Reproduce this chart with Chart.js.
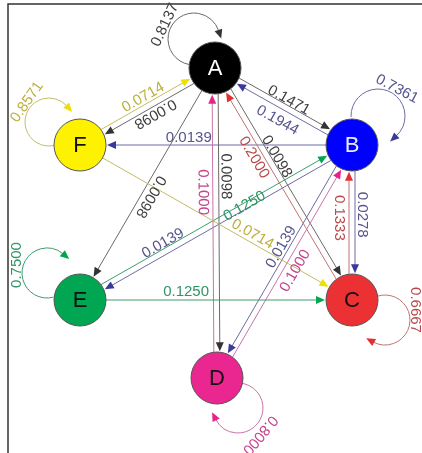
<!DOCTYPE html>
<html><head><meta charset="utf-8">
<script src="https://cdn.jsdelivr.net/npm/chart.js@4"></script>
<style>html,body{margin:0;padding:0;background:#fff}#wrap{width:422px;height:453px;position:relative}</style>
</head><body><div id="wrap"><canvas id="c"></canvas></div>
<script>
// ---- data ----
const states = ['A','B','C','D','E','F'];
const nodeX = [215, 352, 352, 217, 80, 80];
const nodeY = [68, 145, 300, 378, 300, 145];
const fromState = ['A','A','A','A','A','A','B','B','B','B','B','B','C','C','C','D','D','D','E','E','E','F','F','F'];
const toState   = ['A','B','C','D','E','F','A','B','C','D','E','F','A','B','C','A','B','D','B','C','E','A','C','F'];
const probs     = [0.8137,0.1471,0.0098,0.0098,0.0098,0.0098,0.1944,0.7361,0.0278,0.0139,0.0139,0.0139,0.2000,0.1333,0.6667,0.1000,0.1000,0.8000,0.1250,0.1250,0.7500,0.0714,0.0714,0.8571];

// ---- styles ----
const nodeFill  = {A:'#000000',B:'#0000ff',C:'#ec3134',D:'#ea2790',E:'#00a651',F:'#fff200'};
const nodeText  = {A:'#ffffff',B:'#e8e8ff',C:'#111111',D:'#111111',E:'#111111',F:'#111111'};
const arrowCol  = {A:'#333333',B:'#3a3a9c',C:'#e0302f',D:'#e52489',E:'#00a651',F:'#eee000'};
const lineCol   = {A:'#6a6a6a',B:'#6c6ca4',C:'#bd7474',D:'#c873a8',E:'#3d9c6c',F:'#c4bc62'};
const labelCol  = {A:'#404040',B:'#55558f',C:'#b84a4a',D:'#c4448e',E:'#2f9565',F:'#bcb03c'};
const R = 26;
// edge label placement: t along edge, p perpendicular, flip text, off line offset
const edgeStyle = {
 'A>B':{off:3,t:0.51,p:8,flip:false},
 'B>A':{off:3,t:0.49,p:15,flip:true},
 'A>F':{off:3,t:0.48,p:10,flip:false},
 'F>A':{off:3,t:0.505,p:10,flip:false},
 'B>F':{off:0,t:0.60,p:-7,flip:true},
 'A>E':{off:0,t:0.535,p:9,flip:false},
 'A>D':{off:3,t:0.35,p:10,flip:false},
 'D>A':{off:3,t:0.60,p:13,flip:true},
 'A>C':{off:3,t:0.40,p:8,flip:false},
 'C>A':{off:3,t:0.64,p:12,flip:true},
 'F>C':{off:0,t:0.62,p:8,flip:false},
 'E>B':{off:3,t:0.605,p:0,flip:false},
 'B>E':{off:3,t:0.68,p:-8,flip:true},
 'B>C':{off:3,t:0.45,p:10,flip:false},
 'C>B':{off:3,t:0.53,p:13,flip:true},
 'B>D':{off:-3,t:0.46,p:-10,flip:true},
 'D>B':{off:-3,t:0.49,p:-14,flip:false},
 'E>C':{off:0,t:0.39,p:8,flip:false}
};
// self loops: loop centre relative to node, radius, start/end angle (deg), label rel pos & rotation
const loopStyle = {
 A:{cx:-21,cy:-29,r:26,s:100,e:342,lx:-50,ly:-43,rot:-65},
 F:{cx:-31,cy:-23,r:24,s:75,e:318,lx:-53,ly:-43,rot:-55},
 B:{cx:26,cy:-29,r:27,s:178,e:408,lx:45,ly:-56,rot:28},
 C:{cx:33,cy:20,r:25,s:250,e:478,lx:63,ly:10,rot:90},
 D:{cx:21,cy:30,r:25,s:275,e:513,lx:43,ly:57,rot:130},
 E:{cx:-33,cy:-27,r:25,s:75,e:310,lx:-63,ly:-35,rot:-90}
};
const FONT = '15px "Liberation Sans", Arial, sans-serif';

function arrow(ctx, tx, ty, dx, dy, col){
  const len=9, hw=4;
  const bx=tx-dx*len, by=ty-dy*len;
  ctx.beginPath();
  ctx.moveTo(tx,ty);
  ctx.lineTo(bx+dy*hw, by-dx*hw);
  ctx.lineTo(bx-dy*hw, by+dx*hw);
  ctx.closePath();
  ctx.fillStyle=col; ctx.fill();
}
function label(ctx, txt, x, y, rot, col){
  ctx.save();
  ctx.translate(x,y); ctx.rotate(rot);
  ctx.font=FONT; ctx.fillStyle=col; ctx.textAlign='center'; ctx.textBaseline='middle';
  ctx.fillText(txt,0,0);
  ctx.restore();
}

const graphPlugin = {
  id:'graph',
  beforeDatasetsDraw(chart){
    const ctx=chart.ctx, xs=chart.scales.x, ys=chart.scales.y;
    const P = s => { const i=states.indexOf(s); return [xs.getPixelForValue(nodeX[i]), ys.getPixelForValue(nodeY[i])]; };
    ctx.save();
    // frame
    ctx.strokeStyle='#333'; ctx.lineWidth=1.5;
    ctx.beginPath(); ctx.moveTo(xs.getPixelForValue(8), ys.getPixelForValue(453));
    ctx.lineTo(xs.getPixelForValue(8), ys.getPixelForValue(4)); ctx.lineTo(xs.getPixelForValue(422), ys.getPixelForValue(4)); ctx.stroke();
    chart.$labels=[];
    for(let k=0;k<probs.length;k++){
      const f=fromState[k], t=toState[k], txt=probs[k].toFixed(4);
      const [ux,uy]=P(f), [vx,vy]=P(t);
      ctx.lineWidth=1;
      if(f===t){
        const L=loopStyle[f];
        const cx=ux+L.cx, cy=uy+L.cy, s=L.s*Math.PI/180, e=L.e*Math.PI/180;
        ctx.strokeStyle=lineCol[f];
        ctx.beginPath(); ctx.arc(cx,cy,L.r,s,e,false); ctx.stroke();
        const ex=cx+L.r*Math.cos(e), ey=cy+L.r*Math.sin(e);
        const tx=-Math.sin(e), ty=Math.cos(e);
        arrow(ctx, ex+tx*8, ey+ty*8, tx, ty, arrowCol[f]);
        chart.$labels.push([txt, ux+L.lx, uy+L.ly, L.rot*Math.PI/180, labelCol[f]]);
      } else {
        const st=edgeStyle[f+'>'+t];
        const dx=vx-ux, dy=vy-uy, len=Math.hypot(dx,dy);
        const d=[dx/len,dy/len], n=[d[1],-d[0]];
        const a=Math.sqrt(R*R-st.off*st.off);
        const sx=ux+n[0]*st.off+d[0]*a, sy=uy+n[1]*st.off+d[1]*a;
        const ex=vx+n[0]*st.off-d[0]*(a+1), ey=vy+n[1]*st.off-d[1]*(a+1);
        ctx.strokeStyle=lineCol[f];
        ctx.beginPath(); ctx.moveTo(sx,sy); ctx.lineTo(ex-d[0]*6, ey-d[1]*6); ctx.stroke();
        arrow(ctx, ex, ey, d[0], d[1], arrowCol[f]);
        const lx=ux+d[0]*st.t*len+n[0]*st.p, ly=uy+d[1]*st.t*len+n[1]*st.p;
        let rot=Math.atan2(d[1],d[0]) + (st.flip?Math.PI:0);
        chart.$labels.push([txt, lx, ly, rot, labelCol[f]]);
      }
    }
    ctx.restore();
  },
  afterDatasetsDraw(chart){
    const ctx=chart.ctx, xs=chart.scales.x, ys=chart.scales.y;
    ctx.save();
    for(const l of chart.$labels) label(ctx, ...l);
    ctx.font='22px "Liberation Sans", Arial, sans-serif';
    ctx.textAlign='center'; ctx.textBaseline='middle';
    states.forEach((s,i)=>{
      ctx.fillStyle=nodeText[s];
      ctx.fillText(s, xs.getPixelForValue(nodeX[i]), ys.getPixelForValue(nodeY[i])+1);
    });
    ctx.restore();
  }
};

new Chart(document.getElementById('c'), {
  type:'scatter',
  data:{ datasets:[{
    data: states.map((s,i)=>({x:nodeX[i], y:nodeY[i]})),
    pointRadius:R, pointHoverRadius:R,
    backgroundColor: states.map(s=>nodeFill[s]),
    borderColor:'#555', borderWidth:1, clip:false
  }]},
  options:{
    responsive:true, maintainAspectRatio:false, animation:false, events:[],
    layout:{padding:0, autoPadding:false},
    plugins:{legend:{display:false}, tooltip:{enabled:false}},
    scales:{
      x:{type:'linear', min:0, max:422, display:false},
      y:{type:'linear', min:0, max:453, reverse:true, display:false}
    }
  },
  plugins:[graphPlugin]
});
</script></body></html>
